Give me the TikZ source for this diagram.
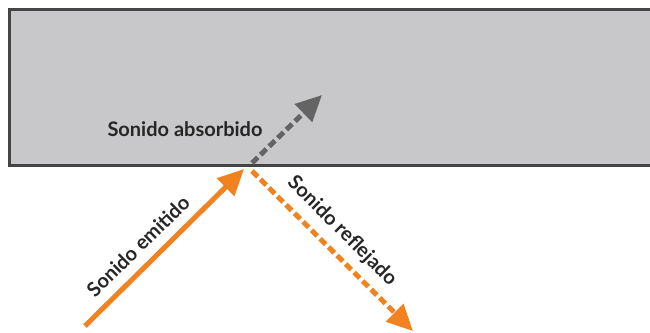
\documentclass[tikz,border=0pt]{standalone}
\usepackage{fontspec}
\setmainfont{Lato}
\usetikzlibrary{arrows.meta}
\definecolor{wallfill}{HTML}{C8C8CA}
\definecolor{wallline}{HTML}{444444}
\definecolor{sndorange}{HTML}{F08220}
\definecolor{sndgray}{HTML}{646464}
\tikzset{
  wall/.style={fill=wallfill, draw=wallline, line width=2.5pt},
  ray/.style={line width=5pt, -{Triangle[length=26pt,width=24pt]}},
  dashray/.style={ray, dash pattern=on 8pt off 4pt},
  lbl/.style={font=\bfseries\fontsize{20}{22}\selectfont, text=black!85, inner sep=0pt}
}
\begin{document}
\begin{tikzpicture}[x=1pt,y=-1pt]
\useasboundingbox (0,0) rectangle (650,332);
\path[wall] (660,9.5) -- (9.5,9.5) -- (9.5,165.5) -- (660,165.5);
\coordinate (e0) at (85,326);
\coordinate (e1) at (244,169);
\coordinate (r0) at (252,171);
\coordinate (r1) at (413,331);
\coordinate (a0) at (252,163);
\coordinate (a1) at (322,95);
\draw[ray, sndorange] (e0) -- (e1);
\draw[dashray, sndorange] (r0) -- (r1);
\draw[dashray, sndgray] (a0) -- (a1);
\node[lbl] (labs) at (185,129) {Sonido absorbido};
\node[lbl, rotate=44.5] (lemi) at (138,246) {Sonido emitido};
\node[lbl, rotate=-45] (lref) at (342,231) {Sonido reflejado};
\end{tikzpicture}
\end{document}
